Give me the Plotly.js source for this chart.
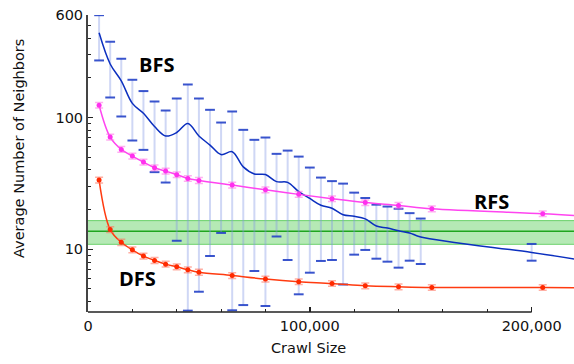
<!DOCTYPE html>
<html>
<head>
<meta charset="utf-8">
<script src="https://cdn.plot.ly/plotly-3.0.1.min.js"></script>
<style>html,body{margin:0;padding:0;background:#fff;}#chart{width:574px;height:364px;}</style>
</head>
<body>
<div id="chart"></div>
<script>
// ---- data ----
const sampleX = [5000,10000,15000,20000,25000,30000,35000,40000,45000,50000,65000,80000,95000,110000,125000,140000,155000,205000];
const rfsY = [124,71,57.3,51,45.9,41.6,39.2,36.8,34.5,33.3,30.7,28.3,26.1,24.2,22.6,21.5,20.3,18.6];
const rfsErr = [6,3.6,2.9,2.5,2.3,2.1,2.0,1.8,1.7,1.7,1.5,1.4,1.3,1.2,1.1,1.1,1.0,0.9];
const dfsY = [33.5,14.1,11.3,9.9,8.87,8.23,7.71,7.37,6.99,6.70,6.32,5.94,5.67,5.50,5.28,5.19,5.13,5.13];
const dfsErr = [1.7,0.7,0.6,0.5,0.45,0.42,0.39,0.37,0.35,0.34,0.32,0.30,0.28,0.27,0.26,0.26,0.25,0.25];
const edgeX = 220000;
const rfsEdge = 18.0, dfsEdge = 5.1, bfsEdge = 8.4;

const bfsX = [5000,10000,15000,20000,25000,30000,35000,40000,45000,50000,55000,60000,65000,70000,75000,80000,85000,90000,95000,100000,105000,110000,115000,120000,125000,130000,135000,140000,145000,150000,200000];
const bfsMean = [440,255,190,128,107.7,85.4,72.4,77,90,72.4,61.8,52.3,55,42.2,37.3,36.9,32.6,32.2,27.4,24.3,21.6,20.5,18.3,17.8,17.0,15.0,14.5,13.8,13.3,12.4,9.45];
const bfsHi = [598,376,279.3,193.4,158.7,132.3,113.0,139.4,178.1,139.4,114.4,91.6,111.1,80.6,67.7,70.5,53.0,56.1,50.5,41.7,35.0,32.9,31.5,26.9,24.5,21.8,21.1,20.3,18.8,17.1,10.97];
const bfsLo = [271.1,141.9,101.8,66.9,56.8,38.5,32.1,11.6,3.42,4.76,8.89,13.3,3.44,3.77,6.84,3.71,12.5,8.29,4.55,6.64,8.15,8.29,5.40,9.10,9.88,8.48,8.05,7.25,8.19,7.73,8.19];

const crawlMean = 13.7, crawlSD = 2.8;

const yTickVals = [10,100,600];
const yTickText = ['10','100','600'];
const yMinor = [4,5,6,7,8,9,20,30,40,50,60,70,80,90,200,300,400,500];
const xTickVals = [0,100000,200000];
const xTickText = ['0','100,000','200,000'];
const xMinor = [20000,40000,60000,80000,120000,140000,160000,180000];

// ---- traces ----
const bandX = [0, 230000];
const traces = [
  {x: bandX, y: [crawlMean-crawlSD, crawlMean-crawlSD], mode:'lines', line:{color:'rgba(80,200,80,0.8)', width:1}, hoverinfo:'skip', showlegend:false},
  {x: bandX, y: [crawlMean+crawlSD, crawlMean+crawlSD], mode:'lines', fill:'tonexty', fillcolor:'rgba(120,215,120,0.55)', line:{color:'rgba(80,200,80,0.8)', width:1}, hoverinfo:'skip', showlegend:false},
  {x: bandX, y: [crawlMean, crawlMean], mode:'lines', line:{color:'#1fa51f', width:1.5}, hoverinfo:'skip', showlegend:false},
  // BFS stems
  {x: bfsX, y: bfsMean, mode:'markers', marker:{size:1, opacity:0},
   error_y:{type:'data', symmetric:false, array: bfsHi.map((h,i)=>h-bfsMean[i]), arrayminus: bfsLo.map((l,i)=>bfsMean[i]-l), color:'rgba(130,150,228,0.38)', thickness:2, width:0},
   showlegend:false},
  // BFS caps
  {x: bfsX.concat(bfsX), y: bfsHi.concat(bfsLo), mode:'markers', marker:{symbol:'line-ew', size:7, line:{color:'rgba(35,65,200,0.9)', width:2}}, showlegend:false},
  // BFS line
  {x: bfsX.concat([edgeX]), y: bfsMean.concat([bfsEdge]), mode:'lines', line:{color:'#0b2fbf', width:1.5, shape:'spline', smoothing:1}, showlegend:false},
  // RFS
  {x: sampleX.concat([edgeX]), y: rfsY.concat([rfsEdge]), mode:'lines', line:{color:'#ff44f0', width:1.5, shape:'spline', smoothing:1}, showlegend:false},
  {x: sampleX, y: rfsY, mode:'markers', marker:{color:'#ff30ee', size:5},
   error_y:{type:'data', array: rfsErr, color:'rgba(255,110,230,0.55)', thickness:1.5, width:4}, showlegend:false},
  // DFS
  {x: sampleX.concat([edgeX]), y: dfsY.concat([dfsEdge]), mode:'lines', line:{color:'#ff3b10', width:1.5, shape:'spline', smoothing:1}, showlegend:false},
  {x: sampleX, y: dfsY, mode:'markers', marker:{color:'#ff2a00', size:5},
   error_y:{type:'data', array: dfsErr, color:'rgba(255,110,90,0.55)', thickness:1.5, width:4}, showlegend:false}
];

const font = {family:'DejaVu Sans, sans-serif', size:14.5, color:'#111'};
const labelFont = {family:'Open Sans, sans-serif', size:20, color:'#000', weight:'bold'};
const W = 574, H = 364, L = 88, R = 0, T = 15, B = 52;
const pw = W-L-R, ph = H-T-B;
const px = v => (v-L)/pw, py = v => (H-B-v)/ph;

const layout = {
  width: W, height: H,
  margin: {l:L, r:R, t:T, b:B, pad:0},
  paper_bgcolor:'#fff', plot_bgcolor:'#fff',
  showlegend:false,
  font: font,
  xaxis: {
    range:[0, 219100], showgrid:false, zeroline:false, showline:false,
    tickmode:'array', tickvals:xTickVals, ticktext:xTickText,
    ticks:'inside', ticklen:5, tickwidth:1.5, tickcolor:'#222',
    ticklabelstandoff:3,
    minor:{tickmode:'array', tickvals:xMinor, ticks:'inside', ticklen:3, tickwidth:1, tickcolor:'#222'},
    tickfont: font
  },
  yaxis: {
    type:'log', range:[Math.log10(3.34), Math.log10(600)], showgrid:false, zeroline:false,
    showline:true, linecolor:'#444', linewidth:2,
    tickmode:'array', tickvals:yTickVals, ticktext:yTickText,
    ticks:'inside', ticklen:5, tickwidth:1.5, tickcolor:'#222',
    minor:{tickmode:'array', tickvals:yMinor, ticks:'inside', ticklen:3, tickwidth:1, tickcolor:'#222'},
    tickfont: font
  },
  shapes: [
    {type:'line', xref:'x', yref:'paper', x0:0, x1:200000, y0:0, y1:0, line:{color:'#222', width:1.5}, layer:'above'}
  ],
  annotations: [
    {text:'Crawl Size', xref:'paper', yref:'paper', x:px(308), y:py(348), xanchor:'center', yanchor:'middle', showarrow:false, font:font},
    {text:'Average Number of Neighbors', xref:'paper', yref:'paper', x:px(19), y:py(149), xanchor:'center', yanchor:'middle', textangle:-90, showarrow:false, font:font},
    {text:'<b>BFS</b>', xref:'paper', yref:'paper', x:px(156), y:py(64), xanchor:'center', yanchor:'middle', showarrow:false, font:labelFont},
    {text:'<b>DFS</b>', xref:'paper', yref:'paper', x:px(137), y:py(278), xanchor:'center', yanchor:'middle', showarrow:false, font:labelFont},
    {text:'<b>RFS</b>', xref:'paper', yref:'paper', x:px(491), y:py(201.5), xanchor:'center', yanchor:'middle', showarrow:false, font:labelFont}
  ]
};

Plotly.newPlot('chart', traces, layout, {staticPlot:true, displayModeBar:false});
</script>
</body>
</html>
